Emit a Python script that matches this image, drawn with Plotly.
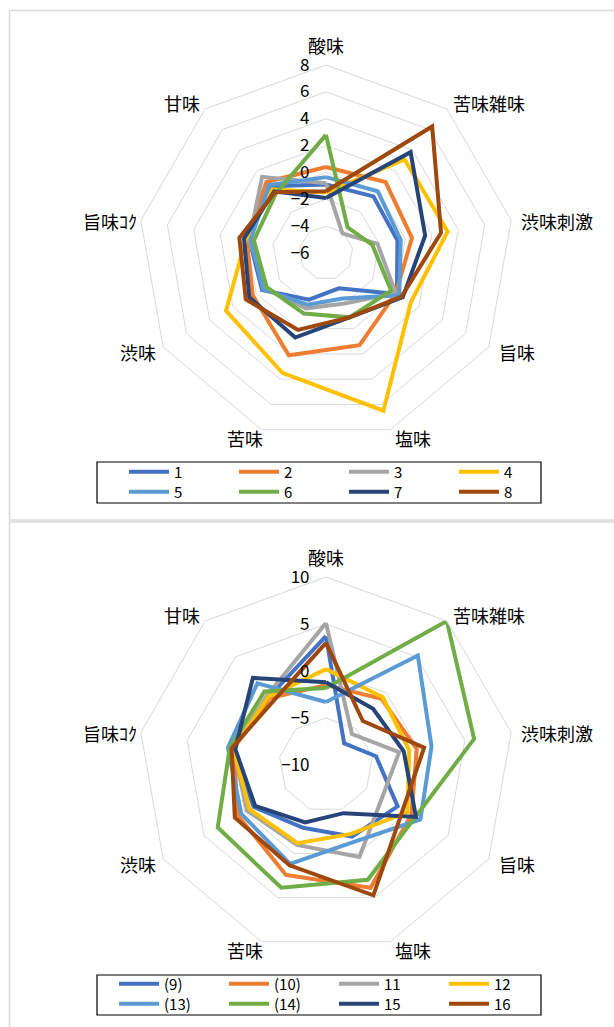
import plotly.graph_objects as go

categories = ["酸味", "苦味雑味", "渋味刺激", "旨味", "塩味", "苦味", "渋味", "旨味ｺｸ", "甘味"]

# top chart series
top_names = ["1", "2", "3", "4", "5", "6", "7", "8"]
s1 = [-0.9, -0.5, -0.6, 0.1, -3.2, -2.3, -0.5, -0.2, 0.5]
s2 = [0.4, 0.9, 0.5, 0.0, 1.3, 2.1, 0.3, 0.0, 0.9]
s3 = [-0.8, -4.1, -2.1, 0.0, -2.0, -1.6, -0.8, -0.2, 1.4]
s4 = [-1.5, 3.1, 3.2, 1.3, 6.5, 3.5, 2.6, 0.05, 0.2]
s5 = [-0.35, 0.0, -0.35, 0.3, -2.4, -1.9, -0.6, -0.3, 0.6]
s6 = [2.8, -3.5, -2.5, -0.4, -0.9, -1.2, -0.9, -0.55, -0.2]
s7 = [-1.9, 3.8, 1.5, 0.6, -0.9, 0.7, 0.6, 0.2, 0.0]
s8 = [-1.4, 6.3, 2.7, 0.5, -0.9, 0.1, 0.9, 0.55, -0.1]

# bottom chart series
bot_names = ["(9)", "(10)", "11", "12", "(13)", "(14)", "15", "16"]
s9 = [3.7, -7.0, -4.6, -1.2, -1.9, -2.9, -1.1, 0.0, -0.55]
s10 = [-1.5, -0.8, -0.2, 0.5, 3.9, 2.45, 0.8, 0.0, -0.7]
s11 = [5.1, -5.7, -2.1, -3.1, 0.4, -0.95, -0.3, 0.0, -0.3]
s12 = [0.2, -0.6, -1.0, 0.0, -2.2, -1.15, -0.6, 0.0, -0.5]
s13 = [-3.3, 5.2, 1.4, 1.6, -1.3, 1.2, 0.4, 0.6, 1.35]
s14 = [-1.8, 10.0, 6.0, 1.0, 3.0, 3.9, 3.3, 0.4, 0.2]
s15 = [-1.2, -2.2, -1.6, 1.05, -4.55, -3.5, -1.3, -0.2, 2.1]
s16 = [3.0, -3.9, 0.6, -0.55, 4.75, 1.35, 1.2, 0.2, -1.2]

colors = ["#4472C4", "#ED7D31", "#A5A5A5", "#FFC000",
          "#5B9BD5", "#70AD47", "#264478", "#9E480E"]

top_series = [s1, s2, s3, s4, s5, s6, s7, s8]
bot_series = [s9, s10, s11, s12, s13, s14, s15, s16]

W, H = 614, 1027
FONT = "Noto Sans CJK JP"

fig = go.Figure()

def add_set(series, names, polar, legends):
    for i, (vals, nm) in enumerate(zip(series, names)):
        fig.add_trace(go.Scatterpolar(
            r=vals + vals[:1],
            theta=categories + categories[:1],
            mode="lines",
            name=nm,
            line=dict(color=colors[i], width=4),
            subplot=polar,
            legend=legends[0] if i < 4 else legends[1],
            hoverinfo="skip",
        ))

add_set(top_series, top_names, "polar", ["legend", "legend2"])
add_set(bot_series, bot_names, "polar2", ["legend3", "legend4"])

cx, R = 326, 188
def dom(cy):
    return dict(x=[(cx - R) / W, (cx + R) / W],
                y=[(H - cy - R) / H, (H - cy + R) / H])

def polar_cfg(cy, rng, dt):
    return dict(
        domain=dom(cy),
        gridshape="linear",
        bgcolor="rgba(0,0,0,0)",
        angularaxis=dict(
            rotation=90, direction="clockwise",
            showgrid=False, showline=True, linecolor="#d9d9d9", linewidth=1,
            ticks="", showticklabels=False,
            categoryorder="array", categoryarray=categories,
        ),
        radialaxis=dict(
            range=rng, dtick=dt, tick0=0, angle=90,
            showline=False, showgrid=True, gridcolor="#d9d9d9", gridwidth=1,
            ticks="outside", ticklen=10, tickcolor="rgba(0,0,0,0)",
            side="counterclockwise", tickangle=90,
            tickfont=dict(family=FONT, size=17, color="#000000"),
        ),
    )

# placement of the category captions around each web (pixel offsets from web centre)
label_offsets = [(0, -208), (163, -150), (231, -32), (191, 99), (87, 185),
                 (-81, 185), (-188, 99), (-216, -32), (-144, -150)]

annotations = []
for cy in (253, 765):
    for name, (dx, dy) in zip(categories, label_offsets):
        annotations.append(dict(
            text=name, xref="paper", yref="paper",
            x=(cx + dx) / W, y=(H - (cy + dy)) / H,
            xanchor="center", yanchor="middle", showarrow=False,
            font=dict(family=FONT, size=18, color="#000000"),
        ))

def legend_cfg(x, ycenter):
    return dict(
        orientation="h", x=x / W, y=(H - ycenter) / H,
        xanchor="left", yanchor="middle",
        entrywidth=55, entrywidthmode="pixels",
        bgcolor="rgba(0,0,0,0)", borderwidth=0,
        font=dict(family=FONT, size=15, color="#000000"),
        itemwidth=40, tracegroupgap=0,
    )

def rect(x0, y0, x1, y1, color, width):
    return dict(type="rect", xref="paper", yref="paper",
                x0=x0 / W, x1=x1 / W, y0=(H - y1) / H, y1=(H - y0) / H,
                line=dict(color=color, width=width), fillcolor="rgba(0,0,0,0)",
                layer="below")

fig.update_layout(
    width=W, height=H, autosize=False,
    margin=dict(l=0, r=0, t=0, b=0),
    paper_bgcolor="white", plot_bgcolor="white",
    font=dict(family=FONT, color="#000000"),
    polar=polar_cfg(253, [-6, 8], 2),
    polar2=polar_cfg(765, [-10, 10], 5),
    legend=legend_cfg(124, 472),
    legend2=legend_cfg(124, 492),
    legend3=legend_cfg(114, 984),
    legend4=legend_cfg(114, 1004),
    annotations=annotations,
    shapes=[
        rect(9.5, 10.5, 640, 520, "#d9d9d9", 1.5),
        rect(9.5, 522, 640, 1060, "#d9d9d9", 1.5),
        rect(97, 462, 541, 503, "#000000", 1.2),
        rect(97, 975, 541, 1015, "#000000", 1.2),
    ],
)

fig.write_html("out.html", config={"displayModeBar": False})
